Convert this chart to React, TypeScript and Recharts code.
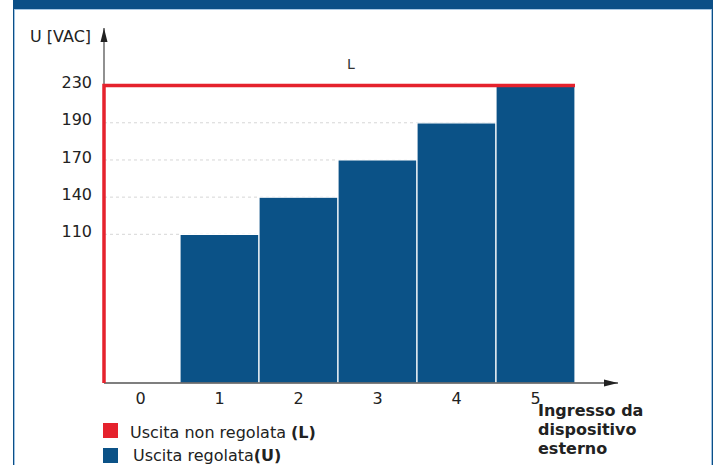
import React from 'react';
import {
  ComposedChart,
  Bar,
  Line,
  XAxis,
  YAxis,
  CartesianGrid,
} from 'recharts';

// input from the external device (x) and output voltage (y)
const CATEGORIES = ['0', '1', '2', '3', '4', '5'];
const REGULATED = [null, 110, 140, 170, 190, 230];

// unregulated output: jumps to 230 at input 0 and stays there
const UNREG_X = [0, 0, 6];
const UNREG_U = [0, 230, 230];

const Y_TICKS = [110, 140, 170, 190, 230];
const Y_TOP = 292;
// the first tick sits this many steps above zero, the others one step apart
const FIRST_TICK_LEVEL = 4;

const BLUE = '#0b5287';
const RED = '#e5222d';
const FONT = '"DejaVu Sans", Verdana, sans-serif';

const barData = CATEGORIES.map((cat, i) => ({ cat, u: REGULATED[i] }));
const unregData = UNREG_X.map((x, i) => ({ x, u: UNREG_U[i] }));

// the voltage axis is schematic: ticks are evenly spaced, not proportional
function levelOf(v: number) {
  if (v <= Y_TICKS[0]) return (v / Y_TICKS[0]) * FIRST_TICK_LEVEL;
  for (let i = 1; i < Y_TICKS.length; i++) {
    if (v <= Y_TICKS[i]) {
      return FIRST_TICK_LEVEL + i - 1 + (v - Y_TICKS[i - 1]) / (Y_TICKS[i] - Y_TICKS[i - 1]);
    }
  }
  const n = Y_TICKS.length;
  return FIRST_TICK_LEVEL + n - 1 + (v - Y_TICKS[n - 1]) / (Y_TICKS[n - 1] - Y_TICKS[n - 2]);
}

function stepScale(): any {
  let dom: number[] = [0, Y_TOP];
  let rng: number[] = [0, 1];
  const s: any = (v: number) => {
    const l0 = levelOf(dom[0]);
    const l1 = levelOf(dom[1]);
    return rng[0] + ((levelOf(v) - l0) / (l1 - l0)) * (rng[1] - rng[0]);
  };
  s.domain = (d?: number[]) => (d ? ((dom = [...d]), s) : dom);
  s.range = (r?: number[]) => (r ? ((rng = [...r]), s) : rng);
  s.copy = () => stepScale().domain(dom).range(rng);
  s.ticks = () => Y_TICKS;
  s.tickFormat = () => (v: number) => String(v);
  return s;
}

const YTick = ({ x, y, payload }: any) => (
  <text x={x} y={y - 3} dy="0.35em" textAnchor="end" fill="#222" fontSize={16} fontFamily={FONT}>
    {payload.value}
  </text>
);

const XTick = ({ x, y, payload }: any) => (
  <text x={x} y={y + 15} dy="0.35em" textAnchor="middle" fill="#222" fontSize={16} fontFamily={FONT}>
    {payload.value}
  </text>
);

const axisLine = { stroke: '#555', strokeWidth: 1.3 };
const layer: React.CSSProperties = { position: 'absolute', left: 0, top: 0 };

export default function App() {
  return (
    <div
      style={{
        position: 'absolute',
        left: 0,
        top: 0,
        width: 721,
        height: 465,
        background: '#fff',
        overflow: 'hidden',
        fontFamily: FONT,
      }}
    >
      <svg width={0} height={0} style={{ position: 'absolute' }}>
        <defs>
          <marker
            id="arrow"
            markerUnits="userSpaceOnUse"
            markerWidth={14}
            markerHeight={8}
            refX={14}
            refY={4}
            orient="auto-start-reverse"
          >
            <path d="M0,0.5 L14,4 L0,7.5 z" fill="#222" />
          </marker>
        </defs>
      </svg>

      {/* frame */}
      <div style={{ position: 'absolute', left: 13, top: 0, width: 700, height: 9, background: '#0b4f87' }} />
      <div style={{ position: 'absolute', left: 13, top: 9, width: 700, height: 1, background: '#a8c8e4' }} />
      <div style={{ position: 'absolute', left: 13, top: 0, width: 1, height: 465, background: '#0b4f87' }} />
      <div style={{ position: 'absolute', left: 14, top: 9, width: 1, height: 456, background: '#9fc2e2' }} />
      <div style={{ position: 'absolute', left: 712, top: 0, width: 1, height: 465, background: '#0b4f87' }} />
      <div style={{ position: 'absolute', left: 711, top: 9, width: 1, height: 456, background: '#9fc2e2' }} />

      {/* axes, grid and regulated output bars */}
      <div style={layer}>
        <ComposedChart
          width={721}
          height={465}
          data={barData}
          margin={{ top: 28, right: 103, bottom: 52, left: 44 }}
          barCategoryGap={0}
        >
          <CartesianGrid
            horizontal
            vertical={false}
            horizontalValues={Y_TICKS}
            stroke="#d6d6d6"
            strokeDasharray="3 3"
            width={471}
          />
          <XAxis
            dataKey="cat"
            padding={{ left: -3, right: 43 }}
            axisLine={{ ...axisLine, markerEnd: 'url(#arrow)' }}
            tickLine={false}
            tickSize={0}
            tickMargin={0}
            tick={<XTick />}
            height={30}
            interval={0}
          />
          <YAxis
            type="number"
            domain={[0, Y_TOP]}
            ticks={Y_TICKS}
            scale={stepScale()}
            width={60}
            axisLine={{ ...axisLine, markerStart: 'url(#arrow)' }}
            tickLine={false}
            tickSize={0}
            tickMargin={12}
            tick={<YTick />}
            interval={0}
          />
          <Bar dataKey="u" fill={BLUE} stroke="#fff" strokeWidth={1.2} isAnimationActive={false} />
        </ComposedChart>
      </div>

      {/* unregulated output, drawn over the axes */}
      <div style={layer}>
        <ComposedChart
          width={721}
          height={465}
          data={unregData}
          margin={{ top: 28, right: 103, bottom: 82, left: 104 }}
        >
          <XAxis type="number" dataKey="x" domain={[0, CATEGORIES.length]} padding={{ left: 0, right: 43 }} hide />
          <YAxis type="number" domain={[0, Y_TOP]} scale={stepScale()} hide />
          <Line
            dataKey="u"
            type="linear"
            stroke={RED}
            strokeWidth={3.5}
            dot={false}
            activeDot={false}
            isAnimationActive={false}
          />
        </ComposedChart>
      </div>

      <div style={{ position: 'absolute', left: 30, top: 27, fontSize: 16, color: '#222', whiteSpace: 'nowrap' }}>
        U [VAC]
      </div>
      <div style={{ position: 'absolute', left: 347, top: 56, fontSize: 14, color: '#333' }}>L</div>

      <div
        style={{
          position: 'absolute',
          left: 538,
          top: 401,
          fontSize: 16,
          fontWeight: 'bold',
          color: '#222',
          lineHeight: '19px',
        }}
      >
        Ingresso da
        <br />
        dispositivo
        <br />
        esterno
      </div>

      <div style={{ position: 'absolute', left: 103, top: 423, width: 15, height: 15, background: RED }} />
      <div style={{ position: 'absolute', left: 130, top: 423, fontSize: 16, color: '#222', whiteSpace: 'nowrap', lineHeight: '20px' }}>
        Uscita non regolata <b>(L)</b>
      </div>
      <div style={{ position: 'absolute', left: 103, top: 448, width: 15, height: 15, background: BLUE }} />
      <div style={{ position: 'absolute', left: 133, top: 446, fontSize: 16, color: '#222', whiteSpace: 'nowrap', lineHeight: '20px' }}>
        Uscita regolata<b>(U)</b>
      </div>
    </div>
  );
}
